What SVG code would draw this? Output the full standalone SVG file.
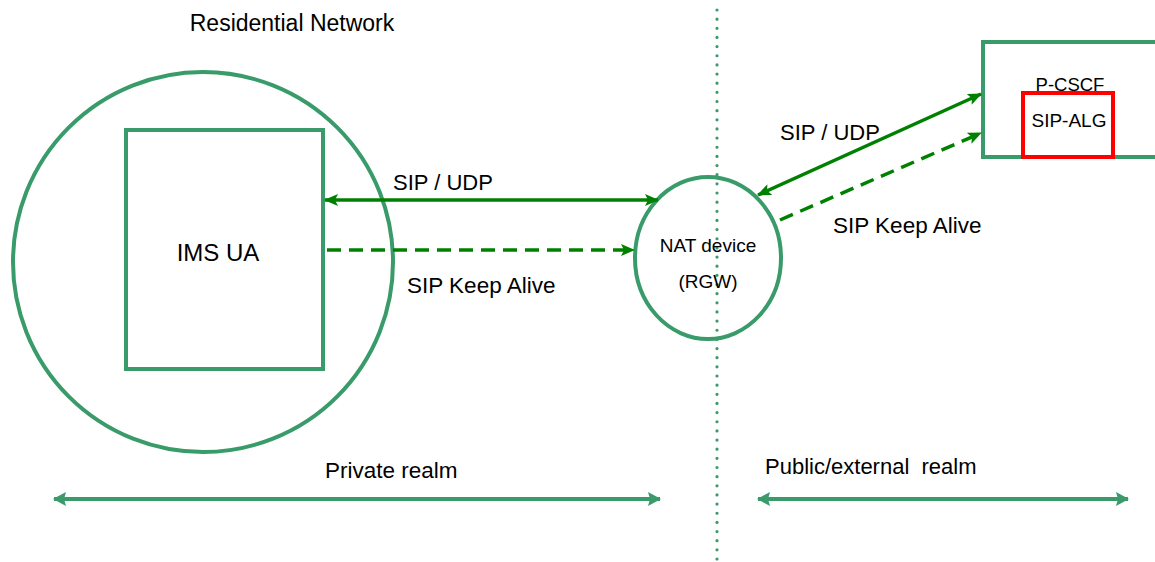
<svg xmlns="http://www.w3.org/2000/svg" width="1155" height="562" viewBox="0 0 1155 562">
<style>
.shape{fill:none;stroke:#389B69;stroke-width:4}
.sip{fill:none;stroke:#008000;stroke-width:3.5}
.dash{stroke-dasharray:14 8}
.realm{fill:none;stroke:#389B69;stroke-width:4}
text{font-family:"Liberation Sans",Arial,sans-serif;fill:#000}
</style>
<defs>
<marker id="ah" markerUnits="userSpaceOnUse" markerWidth="14" markerHeight="12" refX="13" refY="6" orient="auto-start-reverse" viewBox="0 0 14 12">
<path d="M0,0 L14,6 L0,12 L3,6 z" fill="#008000"/>
</marker>
<marker id="rh" markerUnits="userSpaceOnUse" markerWidth="13" markerHeight="14" refX="12" refY="7" orient="auto-start-reverse" viewBox="0 0 13 14">
<path d="M0,0 L13,7 L0,14 L2,7 z" fill="#389B69"/>
</marker>
</defs>
<rect width="1155" height="562" fill="#fff"/>
<text x="292" y="31" font-size="23" text-anchor="middle">Residential Network</text>
<g id="residential">
<circle class="shape" cx="203" cy="262" r="190"/>
</g>
<g id="ims-ua">
<rect class="shape" x="126" y="130" width="197" height="239"/>
<text x="218" y="261" font-size="24" text-anchor="middle">IMS UA</text>
</g>
<g id="boundary">
<line x1="717" y1="10" x2="717" y2="560" stroke="#389B69" stroke-width="3.2" stroke-linecap="round" stroke-dasharray="0 9.15"/>
</g>
<g id="nat">
<ellipse class="shape" cx="708" cy="258" rx="73" ry="81"/>
<text x="708" y="252" font-size="19" text-anchor="middle">NAT device</text>
<text x="708" y="288" font-size="19" text-anchor="middle">(RGW)</text>
</g>
<g id="pcscf">
<rect class="shape" x="983" y="42" width="190" height="115"/>
<text x="1070" y="91" font-size="18.5" text-anchor="middle">P-CSCF</text>
</g>
<g id="sip-alg">
<rect x="1023" y="93" width="90" height="64" fill="none" stroke="#FF0000" stroke-width="4"/>
<text x="1069" y="127" font-size="19" text-anchor="middle">SIP-ALG</text>
</g>
<g id="connectors">
<line class="sip" x1="325" y1="200" x2="658" y2="200" marker-start="url(#ah)" marker-end="url(#ah)"/>
<line class="sip dash" x1="327" y1="250" x2="634" y2="250" marker-end="url(#ah)"/>
<line class="sip" x1="758" y1="195" x2="981" y2="94" marker-start="url(#ah)" marker-end="url(#ah)"/>
<line class="sip dash" x1="780" y1="220" x2="981" y2="133" marker-end="url(#ah)"/>
<line class="realm" x1="54" y1="499" x2="660" y2="499" marker-start="url(#rh)" marker-end="url(#rh)"/>
<line class="realm" x1="758" y1="499" x2="1128" y2="499" marker-start="url(#rh)" marker-end="url(#rh)"/>
</g>
<g id="labels">
<text x="393" y="190" font-size="22">SIP / UDP</text>
<text x="407" y="293" font-size="22.5">SIP Keep Alive</text>
<text x="780" y="140" font-size="22">SIP / UDP</text>
<text x="833" y="233" font-size="22.5">SIP Keep Alive</text>
<text x="325" y="478" font-size="22.5">Private realm</text>
<text x="765" y="474" font-size="22" xml:space="preserve">Public/external  realm</text>
</g>
</svg>
